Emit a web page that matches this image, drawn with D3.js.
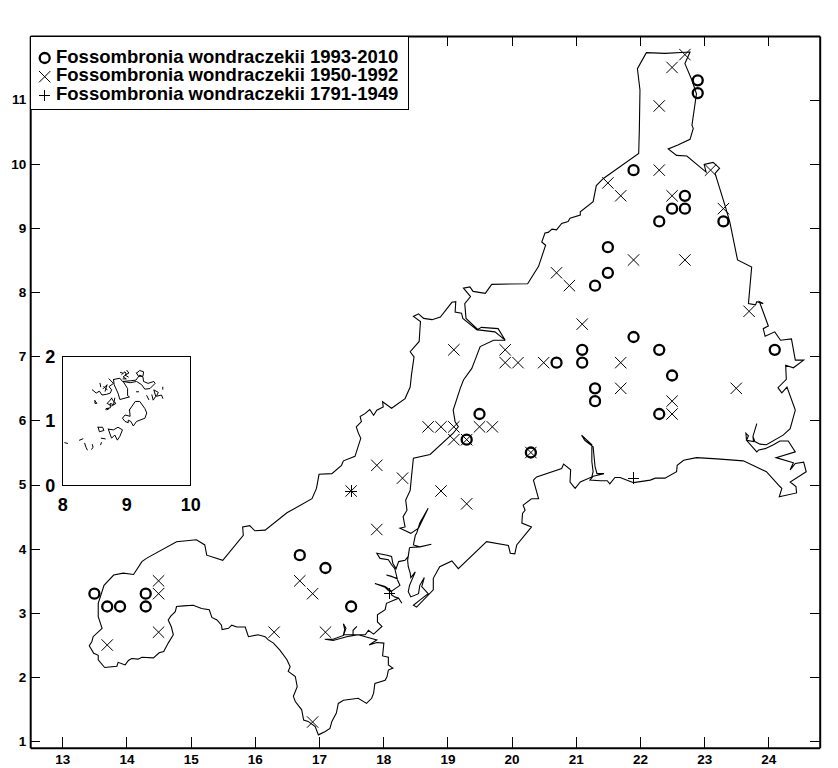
<!doctype html>
<html>
<head>
<meta charset="utf-8">
<script src="https://cdn.jsdelivr.net/npm/d3@7"></script>
<style>
  html,body{margin:0;padding:0;background:#fff;}
  svg{display:block;}
  text{font-family:"Liberation Sans",Arial,sans-serif;font-weight:bold;fill:#000;}
</style>
</head>
<body>
<svg id="chart" width="838" height="768"></svg>
<script>
var xTicks=[13,14,15,16,17,18,19,20,21,22,23,24];
var yTicks=[1,2,3,4,5,6,7,8,9,10,11];
var insetXTicks=[8,9,10];
var insetYTicks=[0,1,2];

var seriesNames=["Fossombronia wondraczekii 1993-2010","Fossombronia wondraczekii 1950-1992","Fossombronia wondraczekii 1791-1949"];

var recent=[[13.5,3.3],[13.7,3.1],[13.9,3.1],[14.3,3.3],[14.3,3.1],[16.7,3.9],[17.1,3.7],[17.5,3.1],[19.3,5.7],[19.5,6.1],[20.3,5.5],[20.7,6.9],[21.1,7.1],[21.1,6.9],[21.3,6.5],[21.3,6.3],[21.3,8.1],[21.5,8.7],[21.5,8.3],[21.9,7.3],[21.9,9.9],[22.3,7.1],[22.3,6.1],[22.5,6.7],[22.3,9.1],[22.5,9.3],[22.7,9.5],[22.7,9.3],[23.3,9.1],[22.9,11.3],[22.9,11.1],[24.1,7.1]];
var middle=[[13.7,2.5],[14.5,3.5],[14.5,3.3],[14.5,2.7],[16.3,2.7],[16.7,3.5],[16.9,3.3],[17.1,2.7],[16.9,1.3],[17.9,5.3],[17.9,4.3],[17.5,4.9],[18.3,5.1],[18.9,4.9],[19.3,4.7],[18.7,5.9],[18.9,5.9],[19.1,5.9],[19.1,5.7],[19.3,5.7],[19.1,7.1],[19.5,5.9],[19.7,5.9],[19.9,7.1],[19.9,6.9],[20.1,6.9],[20.5,6.9],[20.3,5.5],[20.7,8.3],[20.9,8.1],[21.1,7.5],[21.5,9.7],[21.7,9.5],[21.9,8.5],[21.7,6.9],[21.7,6.5],[22.3,10.9],[22.5,11.5],[22.7,11.7],[22.3,9.9],[22.5,9.5],[23.1,9.9],[23.3,9.3],[22.7,8.5],[23.7,7.7],[23.5,6.5],[22.5,6.3],[22.5,6.1]];
var early=[[17.5,4.9],[18.1,3.3],[21.9,5.1]];

// outline, in grid units
var coast=[[13.66,2.15],[13.85,2.17],[13.87,2.23],[13.95,2.20],[13.98,2.19],[14.03,2.26],[14.08,2.29],[14.18,2.28],[14.24,2.31],[14.42,2.30],[14.51,2.38],[14.58,2.40],[14.65,2.53],[14.73,2.66],[14.70,2.78],[14.65,2.89],[14.69,2.95],[14.76,3.02],[14.78,3.10],[14.89,3.11],[15.04,3.12],[15.17,3.07],[15.29,3.05],[15.33,2.93],[15.41,2.89],[15.48,2.81],[15.49,2.74],[15.59,2.76],[15.64,2.81],[15.72,2.78],[15.85,2.78],[15.90,2.63],[16.05,2.66],[16.16,2.63],[16.21,2.58],[16.29,2.53],[16.39,2.42],[16.50,2.27],[16.55,2.16],[16.52,2.09],[16.63,2.01],[16.66,1.85],[16.60,1.70],[16.63,1.62],[16.73,1.49],[16.76,1.33],[16.83,1.31],[16.94,1.23],[16.99,1.10],[17.09,1.15],[17.17,1.20],[17.20,1.31],[17.27,1.44],[17.30,1.59],[17.38,1.64],[17.61,1.67],[17.74,1.59],[17.82,1.67],[17.85,1.75],[17.87,1.90],[18.03,1.95],[18.06,2.01],[18.08,2.11],[18.15,2.14],[18.08,2.19],[18.08,2.31],[17.99,2.33],[18.01,2.53],
[17.90,2.54],[17.78,2.50],[17.90,2.58],[17.75,2.62],[17.61,2.66],[17.43,2.63],[17.22,2.57],[17.09,2.59],[17.22,2.59],[17.38,2.65],[17.42,2.76],[17.38,2.83],[17.40,2.74],[17.38,2.66],[17.53,2.66],[17.53,2.73],[17.59,2.79],[17.53,2.73],[17.53,2.66],[17.61,2.66],[17.72,2.66],[17.77,2.73],[17.85,2.67],[17.98,2.79],[17.91,2.86],[17.91,2.97],[18.03,3.05],[18.05,3.15],[18.24,3.23],[18.29,3.15],[18.24,3.23],[18.18,3.25],[18.13,3.28],[18.13,3.33],[18.08,3.35],[18.03,3.40],[17.87,3.46],[18.03,3.41],[18.13,3.34],[18.26,3.43],[18.21,3.54],[18.05,3.59],[18.13,3.57],[18.22,3.53],[18.18,3.69],[18.13,3.75],[18.08,3.83],[17.95,3.85],[17.90,3.93],[18.06,3.90],[18.13,3.88],[18.15,3.77],[18.20,3.69],[18.24,3.80],[18.34,3.82],[18.39,3.88],[18.41,4.02],
[18.38,3.82],[18.39,3.72],[18.42,3.62],[18.43,3.55],[18.50,3.64],[18.41,3.43],[18.39,3.33],[18.43,3.25],[18.55,3.30],[18.57,3.43],[18.64,3.55],[18.60,3.41],[18.70,3.30],[18.57,3.20],[18.47,3.12],[18.52,3.09],[18.78,3.36],[18.78,3.54],[18.88,3.72],[19.07,3.81],[19.17,3.69],[19.61,4.11],[19.95,4.05],[19.98,3.93],[20.05,3.92],[20.08,4.06],[20.31,4.34],[20.16,4.40],[20.17,4.55],[20.21,4.60],[20.18,4.68],[20.31,4.78],[20.42,4.78],[20.34,5.07],[20.39,5.12],[20.78,5.25],[20.81,5.32],[20.92,5.23],[20.91,5.04],[20.99,4.94],[21.07,5.04],[21.25,5.12],[21.27,5.20],[21.25,5.36],[21.25,5.62],[21.09,5.77],[21.14,5.69],[21.27,5.59],[21.30,5.28],[21.33,5.17],[21.44,5.17],[21.27,5.13],[21.22,5.07],[21.38,5.06],[21.49,5.06],[21.53,5.01],[21.61,5.11],[21.69,5.11],[21.82,5.06],[21.90,5.03],[22.16,5.07],[22.24,5.10],[22.39,5.10],[22.57,5.20],[22.58,5.30],[22.68,5.38],[22.88,5.42],[23.20,5.40],[23.61,5.37],[23.97,5.20],[24.18,4.97],[24.21,4.94],[24.17,4.81],[24.44,4.87],[24.43,4.97],[24.34,5.04],[24.59,5.20],[24.55,5.35],[24.42,5.33],[24.34,5.23],[24.39,5.34],[24.12,5.42],[24.42,5.51],[24.31,5.68],[24.18,5.68],[24.08,5.62],[23.95,5.56],[23.85,5.54],[23.82,5.51],[23.66,5.69],[23.65,5.80],[23.69,5.76],[23.66,5.69],[23.77,5.67],[23.76,5.75],[23.82,5.95],[23.76,5.75],[23.79,5.67],[23.87,5.63],[23.97,5.62],[24.23,5.77],[24.34,5.87],[24.42,6.16],[24.29,6.52],[24.21,6.43],[24.15,6.51],[24.28,6.64],[24.27,6.86],[24.39,6.82],[24.55,6.94],[24.42,6.94],[24.36,7.27],[24.19,7.25],[24.10,7.38],[23.95,7.31],[23.92,7.43],[24.00,7.47],[23.92,7.69],[23.86,7.85],[23.92,7.82],[23.82,7.85],[23.80,7.80],[23.69,7.82],[23.74,8.39],[23.52,8.50],[23.40,9.09],[23.33,9.33],[23.17,9.85],[23.24,9.93],[23.14,10.02],[23.00,9.99],[23.03,9.87],[22.73,10.12],[22.57,10.13],[22.44,10.23],[22.59,10.29],[22.78,10.38],[22.83,10.55],[22.81,10.60],[22.88,11.09],[22.81,11.30],[22.70,11.56],[22.78,11.74],[22.39,11.72],[22.10,11.73],[21.96,11.48],[22.00,11.15],[21.99,10.52],[21.98,10.16],[21.43,9.77],[21.32,9.66],[21.27,9.41],[21.07,9.25],[21.07,9.20],[20.91,9.15],[20.88,9.10],[20.78,9.07],[20.70,8.97],[20.63,8.98],[20.57,8.93],[20.52,8.92],[20.47,8.78],[20.53,8.73],[20.42,8.40],[20.25,8.13],[19.69,8.12],[19.59,7.98],[19.40,8.01],[19.35,8.08],[19.25,8.06],[19.36,7.93],[19.27,7.82],[19.29,7.59],[19.48,7.41],[19.74,7.38],[19.90,7.25],[19.79,7.43],[19.53,7.45],[19.46,7.41],[19.24,7.59],[19.22,7.67],[19.12,7.69],[19.13,7.85],[19.07,7.84],[18.89,7.61],[18.76,7.57],[18.63,7.59],[18.55,7.66],[18.47,7.62],[18.58,7.54],[18.56,7.23],[18.42,7.07],[18.48,6.99],[18.44,6.71],[18.42,6.52],[18.34,6.34],[18.13,6.19],[17.99,6.29],[18.00,6.21],[17.90,6.16],[17.85,6.08],[17.79,6.17],[17.72,6.11],[17.64,6.06],[17.66,5.98],[17.58,5.90],[17.61,5.81],[17.65,5.72],[17.56,5.44],[17.38,5.37],[17.35,5.30],[17.20,5.17],[17.00,5.16],[16.96,4.94],[16.89,4.78],[16.50,4.56],[16.16,4.29],[16.00,4.28],[15.92,4.36],[15.81,4.34],[15.82,4.21],[15.50,3.82],[15.25,3.90],[15.22,4.06],[15.09,4.14],[14.78,4.11],[14.31,3.85],[14.24,3.80],[14.11,3.60],[13.95,3.62],[13.80,3.59],[13.65,3.43],[13.56,3.15],[13.56,2.94],[13.62,2.76],[13.48,2.63],[13.46,2.55],[13.42,2.49],[13.49,2.37],[13.56,2.34],[13.56,2.27],[13.66,2.15]];

var innerLine=[[19.90,7.25],[19.72,7.25],[19.51,7.15],[19.43,6.94],[19.38,6.81],[19.25,6.63],[19.20,6.50],[19.09,6.16],[19.12,5.98],[19.17,5.90],[19.09,5.80],[18.73,5.47],[18.47,5.41],[18.44,5.12],[18.42,4.91],[18.35,4.76],[18.37,4.60],[18.31,4.50],[18.34,4.34],[18.26,4.32],[18.43,4.24],[18.55,4.32],[18.70,4.63],[18.57,4.40],[18.52,4.24],[18.50,4.21],[18.47,4.06],[18.57,4.03],[18.75,4.07],[18.57,4.03],[18.41,4.02]];

var islands=[
[[9.05,1.17],[9.14,1.30],[9.21,1.30],[9.29,1.19],[9.32,1.12],[9.29,1.04],[9.16,0.99],[9.11,0.92],[9.07,0.99],[9.03,1.01],[9.03,0.97],[8.98,0.99],[8.94,1.04],[8.98,1.09],[9.06,1.07],[9.05,1.17]],
[[8.80,1.64],[8.90,1.66],[8.94,1.61],[9.06,1.62],[9.15,1.63],[9.21,1.71],[9.26,1.68],[9.27,1.61],[9.34,1.58],[9.43,1.61],[9.45,1.58],[9.37,1.50],[9.29,1.49],[9.24,1.56],[9.16,1.61],[9.06,1.59],[8.95,1.61],[9.02,1.50],[9.02,1.39],[9.05,1.37],[8.90,1.33],[8.87,1.43],[8.81,1.56],[8.80,1.64]],
[[9.16,1.74],[9.21,1.78],[9.27,1.76],[9.26,1.69],[9.19,1.69],[9.16,1.74]],
[[8.47,1.48],[8.53,1.43],[8.58,1.46],[8.62,1.40],[8.69,1.41],[8.75,1.43],[8.77,1.48],[8.73,1.53],[8.80,1.58],[8.73,1.65]],
[[8.59,1.58],[8.60,1.53]],[[8.64,1.50],[8.70,1.56],[8.67,1.46]],[[8.65,1.53],[8.70,1.48]],
[[8.51,1.31],[8.54,1.27],[8.51,1.27],[8.51,1.31]],
[[8.77,1.35],[8.80,1.30],[8.84,1.27],[8.77,1.23],[8.70,1.27],[8.74,1.31],[8.77,1.35]],
[[8.69,1.19],[8.75,1.20],[8.75,1.27],[8.80,1.25],[8.82,1.35]],
[[8.68,1.18],[8.73,1.19],[8.70,1.17]],
[[9.32,1.39],[9.35,1.33]],
[[9.40,1.40],[9.42,1.32],[9.46,1.38],[9.43,1.48],[9.50,1.44],[9.47,1.38],[9.55,1.40],[9.57,1.35]],
[[9.57,1.52],[9.57,1.49]],[[9.16,1.45],[9.19,1.45]],
[[8.56,0.90],[8.63,0.90],[8.65,0.85],[8.58,0.83],[8.56,0.90]],
[[8.72,0.87],[8.80,0.86],[8.87,0.90],[8.94,0.86],[8.90,0.76],[8.86,0.70],[8.82,0.78],[8.77,0.73],[8.74,0.81],[8.72,0.87]],
[[8.04,0.66],[8.08,0.65]],[[8.27,0.70],[8.32,0.72]],[[8.35,0.65],[8.37,0.59],[8.39,0.55]],
[[8.46,0.56],[8.48,0.59],[8.47,0.63]],[[8.61,0.73],[8.67,0.72]],[[8.60,0.63],[8.61,0.66]],
[[8.91,1.75],[8.94,1.74]],[[9.01,1.78],[9.04,1.74],[8.98,1.71],[9.03,1.68]],
[[8.93,1.72],[8.98,1.76],[9.00,1.72],[8.95,1.68],[9.00,1.65],[8.95,1.65]]
];

var svg=d3.select("#chart");
var x=d3.scaleLinear().domain([12.5,24.8]).range([30.2,819.7]);
var y=d3.scaleLinear().domain([0.9,11.99]).range([747.7,36]);
var ix=d3.scaleLinear().domain([8,10]).range([62.3,190.3]);
var iy=d3.scaleLinear().domain([0,2]).range([485.3,356.3]);

function crossPath(r){return "M"+(-r)+","+(-r)+"L"+r+","+r+"M"+(-r)+","+r+"L"+r+","+(-r);}
function plusPath(r){return "M"+(-r)+",0L"+r+",0M0,"+(-r)+"L0,"+r;}

var line=d3.line().x(d=>x(d[0])).y(d=>y(d[1]));
var iline=d3.line().x(d=>ix(d[0])).y(d=>iy(d[1]));

// map
var map=svg.append("g").attr("fill","none").attr("stroke","#000").attr("stroke-width",1.1);
map.append("path").datum(coast).attr("d",line);
map.append("path").datum(innerLine).attr("d",line);

// points
svg.append("g").selectAll("path").data(middle).enter().append("path")
   .attr("transform",d=>"translate("+x(d[0])+","+y(d[1])+")")
   .attr("d",crossPath(5.7)).attr("stroke","#000").attr("fill","none");
svg.append("g").selectAll("path").data(early).enter().append("path")
   .attr("transform",d=>"translate("+x(d[0])+","+y(d[1])+")")
   .attr("d",plusPath(5.7)).attr("stroke","#000").attr("fill","none").attr("shape-rendering","crispEdges");
svg.append("g").selectAll("circle").data(recent).enter().append("circle")
   .attr("cx",d=>x(d[0])).attr("cy",d=>y(d[1])).attr("r",5)
   .attr("fill","none").attr("stroke","#000").attr("stroke-width",2.3);

// main frame
function styleAxis(g,size){
    g.selectAll(".domain").attr("stroke","#000").attr("stroke-width",2);
    g.selectAll(".tick line").attr("stroke","#000").attr("stroke-width",1).attr("shape-rendering","crispEdges");
    g.selectAll("text").style("font-size",size+"px").style("font-family",'"Liberation Sans",Arial,sans-serif').style("font-weight","bold").attr("fill","#000");
}
var fmt=d3.format("d");
svg.append("g").attr("transform","translate(0,"+y(0.9)+")")
   .call(d3.axisBottom(x).tickValues(xTicks).tickFormat(fmt).tickSize(-11).tickSizeOuter(0).tickPadding(7)).call(styleAxis,13.5);
svg.append("g").attr("transform","translate(0,"+y(11.99)+")")
   .call(d3.axisTop(x).tickValues(xTicks).tickFormat("").tickSize(-10).tickSizeOuter(0)).call(styleAxis,13.5);
svg.append("g").attr("transform","translate("+x(12.5)+",0)")
   .call(d3.axisLeft(y).tickValues(yTicks).tickFormat(fmt).tickSize(-10).tickSizeOuter(0).tickPadding(4)).call(styleAxis,13.5);
svg.append("g").attr("transform","translate("+x(24.8)+",0)")
   .call(d3.axisRight(y).tickValues(yTicks).tickFormat("").tickSize(-10).tickSizeOuter(0)).call(styleAxis,13.5);

// inset
var inset=svg.append("g");
inset.append("rect").attr("x",ix(8)).attr("y",iy(2)).attr("width",ix(10)-ix(8)).attr("height",iy(0)-iy(2))
     .attr("fill","#fff").attr("stroke","#000").attr("shape-rendering","crispEdges");
inset.append("g").selectAll("path").data(islands).enter().append("path")
     .attr("d",iline).attr("fill","none").attr("stroke","#000").attr("stroke-width",1).attr("stroke-linecap","square");
inset.append("g").attr("transform","translate(0,"+iy(0)+")")
     .call(d3.axisBottom(ix).tickValues(insetXTicks).tickFormat(fmt).tickSize(0).tickPadding(12.5)).call(styleAxis,18)
     .select(".domain").remove();
inset.append("g").attr("transform","translate("+ix(8)+",0)")
     .call(d3.axisLeft(iy).tickValues(insetYTicks).tickFormat(fmt).tickSize(0).tickPadding(7)).call(styleAxis,18)
     .select(".domain").remove();

// legend
var legend=svg.append("g");
legend.append("rect").attr("x",30).attr("y",36).attr("width",378.5).attr("height",73)
      .attr("fill","#fff").attr("stroke","#000").attr("shape-rendering","crispEdges");
var rows=legend.selectAll("g.row").data(seriesNames).enter().append("g").attr("class","row")
      .attr("transform",(d,i)=>"translate(0,"+(58+i*18.7)+")");
rows.append("text").attr("x",56).attr("dy","0.25em").style("font-size","18.5px").text(d=>d);
rows.filter((d,i)=>i==0).append("circle").attr("cx",44.7).attr("r",5).attr("fill","none").attr("stroke","#000").attr("stroke-width",2.3);
rows.filter((d,i)=>i==1).append("path").attr("transform","translate(44.7,0)").attr("d",crossPath(5.7)).attr("stroke","#000").attr("fill","none");
rows.filter((d,i)=>i==2).append("path").attr("transform","translate(44.7,0)").attr("d",plusPath(5.7)).attr("stroke","#000").attr("fill","none").attr("shape-rendering","crispEdges");
</script>
</body>
</html>
